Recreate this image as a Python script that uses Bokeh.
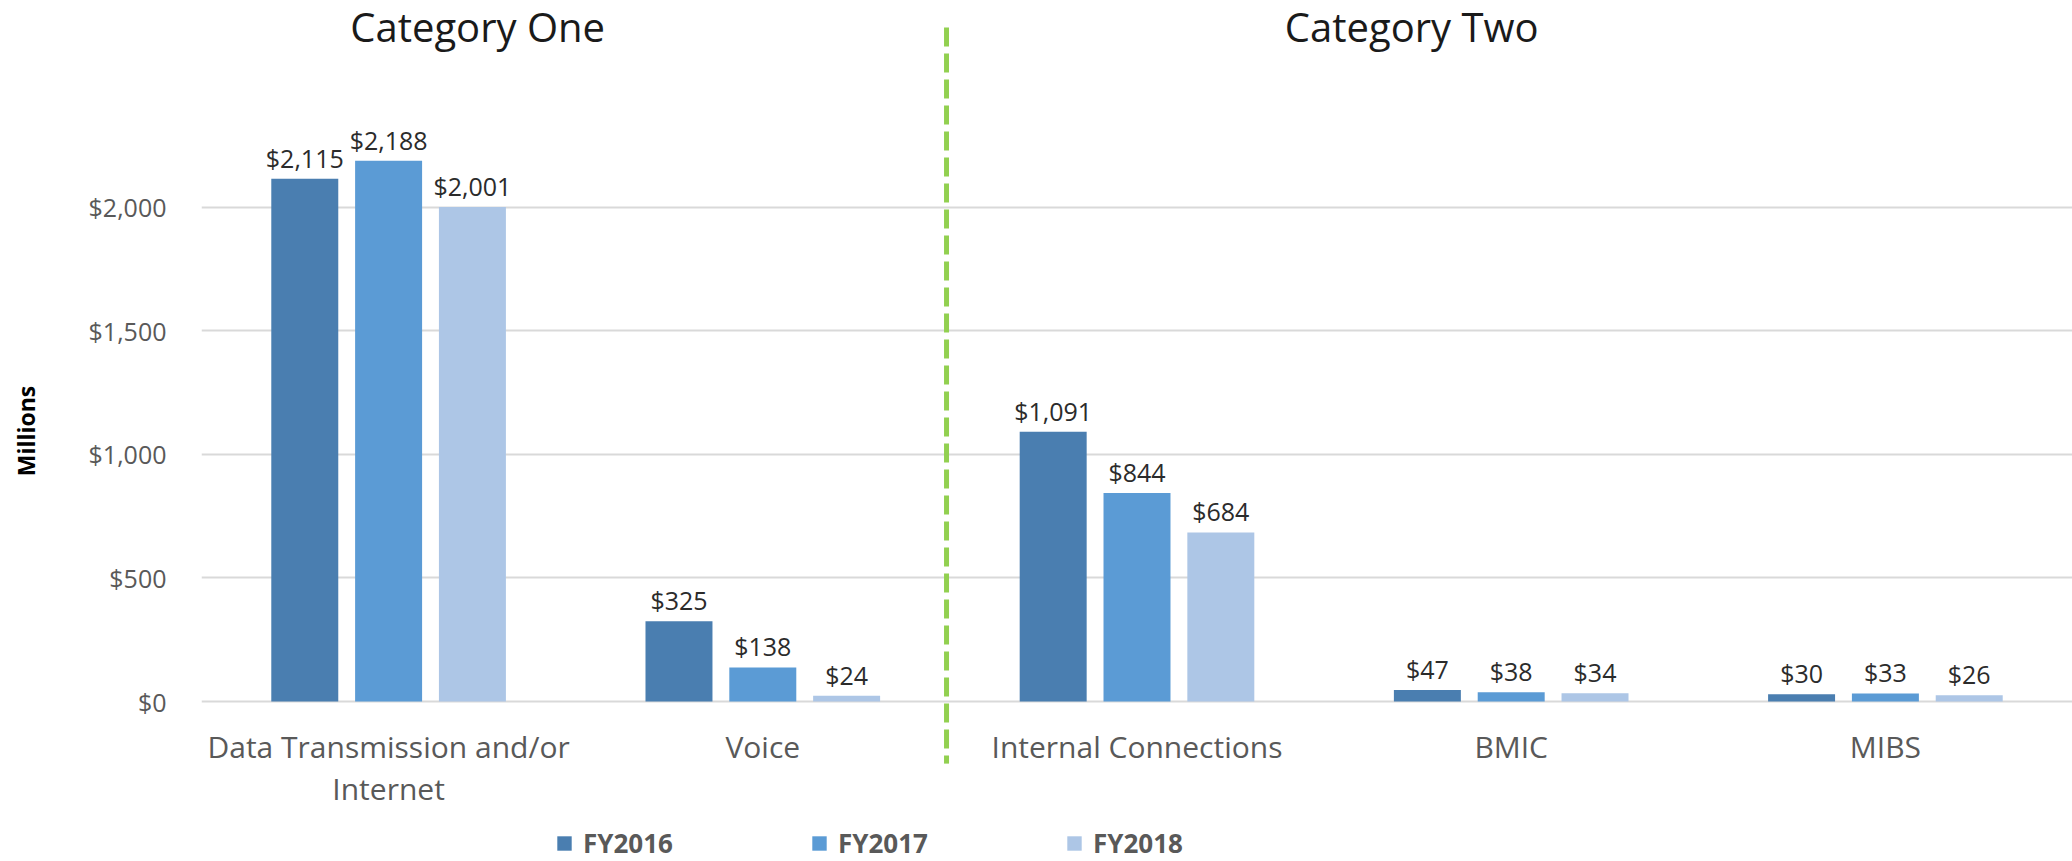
from bokeh.plotting import figure
from bokeh.models import (ColumnDataSource, Range1d, FixedTicker, NumeralTickFormatter,
                          Legend, LegendItem)
from bokeh.core.properties import value
from bokeh.embed import file_html
from bokeh.resources import INLINE

# ---- data ----
categories = ["Data Transmission and/or\nInternet", "Voice", "Internal Connections", "BMIC", "MIBS"]
series_names = ["FY2016", "FY2017", "FY2018"]
fy2016 = [2115, 325, 1091, 47, 30]
fy2017 = [2188, 138, 844, 38, 33]
fy2018 = [2001, 24, 684, 34, 26]
y_ticks = [0, 500, 1000, 1500, 2000]
group_titles = ["Category One", "Category Two"]

# ---- style ----
colors = ["#4A7EB0", "#5B9BD5", "#ADC6E6"]
FONT = "Open Sans"
offsets = [-0.224, 0.0, 0.224]
bar_w = 0.179

p = figure(width=2072, height=861, output_backend="svg", toolbar_location=None,
           x_range=Range1d(-0.5, 4.5), y_range=Range1d(-647, 2836),
           min_border_left=201, min_border_right=0, min_border_top=0, min_border_bottom=0)
p.outline_line_color = None
p.xaxis.visible = False
p.xgrid.visible = False

# y axis
p.yaxis.ticker = FixedTicker(ticks=y_ticks)
p.yaxis.formatter = NumeralTickFormatter(format="$0,0")
p.yaxis.axis_line_color = None
p.yaxis.major_tick_line_color = None
p.yaxis.minor_tick_line_color = None
p.yaxis.major_label_standoff = 29
p.yaxis.major_label_text_font = FONT
p.yaxis.major_label_text_font_size = "25px"
p.yaxis.major_label_text_color = "#595959"
p.yaxis.axis_label = "Millions"
p.yaxis.axis_label_text_font = FONT
p.yaxis.axis_label_text_font_size = "23px"
p.yaxis.axis_label_text_font_style = "bold"
p.yaxis.axis_label_text_color = "#000000"
p.yaxis.axis_label_standoff = 44
p.ygrid.ticker = FixedTicker(ticks=y_ticks)
p.ygrid.grid_line_color = "#D9D9D9"
p.ygrid.grid_line_width = 2

series = [fy2016, fy2017, fy2018]
renderers = []
for k, (vals, name) in enumerate(zip(series, series_names)):
    xs = [i + offsets[k] for i in range(len(categories))]
    src = ColumnDataSource(dict(x=xs, top=vals, lab=[f"${v:,}" for v in vals]))
    r = p.vbar(x="x", top="top", width=bar_w, bottom=0, source=src,
               fill_color=colors[k], line_color=None)
    renderers.append(r)
    p.text(x="x", y="top", text="lab", source=src, text_align="center",
           text_baseline="alphabetic", y_offset=-21, text_font=value(FONT),
           text_font_size="25px", text_color="#2B2B2B")

# category labels
csrc = ColumnDataSource(dict(x=list(range(len(categories))), y=[-97] * len(categories), t=categories))
p.text(x="x", y="y", text="t", source=csrc, text_align="center", text_baseline="top",
       text_font=value(FONT), text_font_size="30px", text_color="#595959",
       text_line_height=1.04)

# group titles
tsrc = ColumnDataSource(dict(x=[0.238, 2.734], y=[2731, 2731], t=group_titles))
p.text(x="x", y="y", text="t", source=tsrc, text_align="center", text_baseline="alphabetic",
       text_font=value(FONT), text_font_size="40px", text_color="#1A1A1A")

# divider
p.segment(x0=[1.491], y0=[2727], x1=[1.491], y1=[-251], line_color="#92D050",
          line_width=5, line_dash="19 7")

legend = Legend(items=[LegendItem(label=n, renderers=[r]) for n, r in zip(series_names, renderers)],
                orientation="horizontal", location=(354, 0),
                glyph_width=18, glyph_height=18, label_standoff=10, label_width=110,
                spacing=117, padding=0, margin=0,
                border_line_color=None, background_fill_alpha=0,
                label_text_font=FONT, label_text_font_size="26px",
                label_text_font_style="bold", label_text_color="#595959",
                label_text_line_height=1.0, label_height=18)
p.add_layout(legend, "center")

open("out.html", "w").write(file_html(p, INLINE))
